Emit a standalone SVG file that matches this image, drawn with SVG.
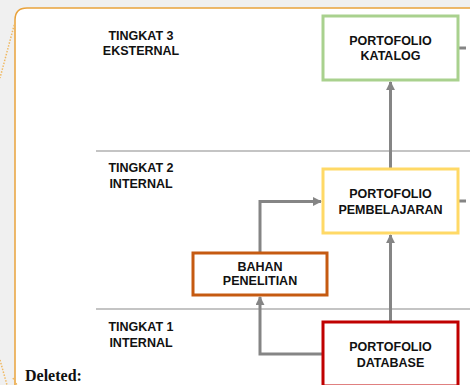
<svg xmlns="http://www.w3.org/2000/svg" width="470" height="385" viewBox="0 0 470 385">
<defs>
<style>
.lbl{font-family:"Liberation Sans",Arial,sans-serif;font-weight:bold;font-size:12.5px;fill:#111;text-anchor:middle}
.box{fill:#fff;stroke-width:3}
.conn{fill:none;stroke:#858585;stroke-width:3}
.sep{stroke:#c4c4c4;stroke-width:2}
.dot{fill:none;stroke:#f0b860;stroke-width:1.5;stroke-dasharray:1.5 1.5}
</style>
<marker id="ah" viewBox="0 0 10 10" refX="9" refY="5" markerWidth="3" markerHeight="3" orient="auto" markerUnits="strokeWidth">
<path d="M0,0 L10,5 L0,10 z" fill="#858585"/>
</marker>
</defs>
<rect x="0" y="0" width="470" height="385" fill="#f0f0f0"/>
<path d="M15,385 L15,20 Q15,8 27,8 L470,8 L470,385 Z" fill="#fff"/>
<path d="M15,385 L15,20 Q15,8 27,8 L470,8" fill="none" stroke="#e9a23b" stroke-width="1.5"/>
<path class="dot" d="M15,22 L0,78"/>
<path class="dot" d="M0,360 L7,385"/>
<path class="dot" d="M13,378 L17,385"/>
<line class="sep" x1="96" y1="151" x2="470" y2="151"/>
<line class="sep" x1="96" y1="309" x2="470" y2="309"/>
<g id="tier3"><text class="lbl" x="141" y="40">TINGKAT 3</text><text class="lbl" x="141" y="55">EKSTERNAL</text></g>
<g id="tier2"><text class="lbl" x="141" y="172">TINGKAT 2</text><text class="lbl" x="141" y="188">INTERNAL</text></g>
<g id="tier1"><text class="lbl" x="141" y="331">TINGKAT 1</text><text class="lbl" x="141" y="347">INTERNAL</text></g>
<g id="connectors">
<line class="conn" x1="390.5" y1="322" x2="390.5" y2="235" marker-end="url(#ah)"/>
<line class="conn" x1="390.5" y1="169" x2="390.5" y2="82" marker-end="url(#ah)"/>
<polyline class="conn" points="260,253 260,201.5 321,201.5" marker-end="url(#ah)"/>
<polyline class="conn" points="323,354 260,354 260,297" marker-end="url(#ah)"/>
<line class="conn" x1="458" y1="48" x2="466" y2="48"/>
<line class="conn" x1="458" y1="201" x2="466" y2="201"/>
</g>
<g id="katalog"><rect class="box" x="323" y="16" width="135" height="64" stroke="#a9d18e"/><text class="lbl" x="390.5" y="45">PORTOFOLIO</text><text class="lbl" x="390.5" y="60">KATALOG</text></g>
<g id="pembelajaran"><rect class="box" x="323" y="169" width="135" height="64" stroke="#ffd966"/><text class="lbl" x="390.5" y="198">PORTOFOLIO</text><text class="lbl" x="390.5" y="213.5">PEMBELAJARAN</text></g>
<g id="bahan"><rect class="box" x="193" y="253" width="134" height="42" stroke="#c55a11"/><text class="lbl" x="260" y="271">BAHAN</text><text class="lbl" x="260" y="285">PENELITIAN</text></g>
<g id="database"><rect class="box" x="323" y="322" width="135" height="64" stroke="#c00000"/><text class="lbl" x="390.5" y="351">PORTOFOLIO</text><text class="lbl" x="390.5" y="366.5">DATABASE</text></g>
<text x="25" y="381" font-family="'Liberation Serif','Times New Roman',serif" font-weight="bold" font-size="16" fill="#111">Deleted:</text>
</svg>
